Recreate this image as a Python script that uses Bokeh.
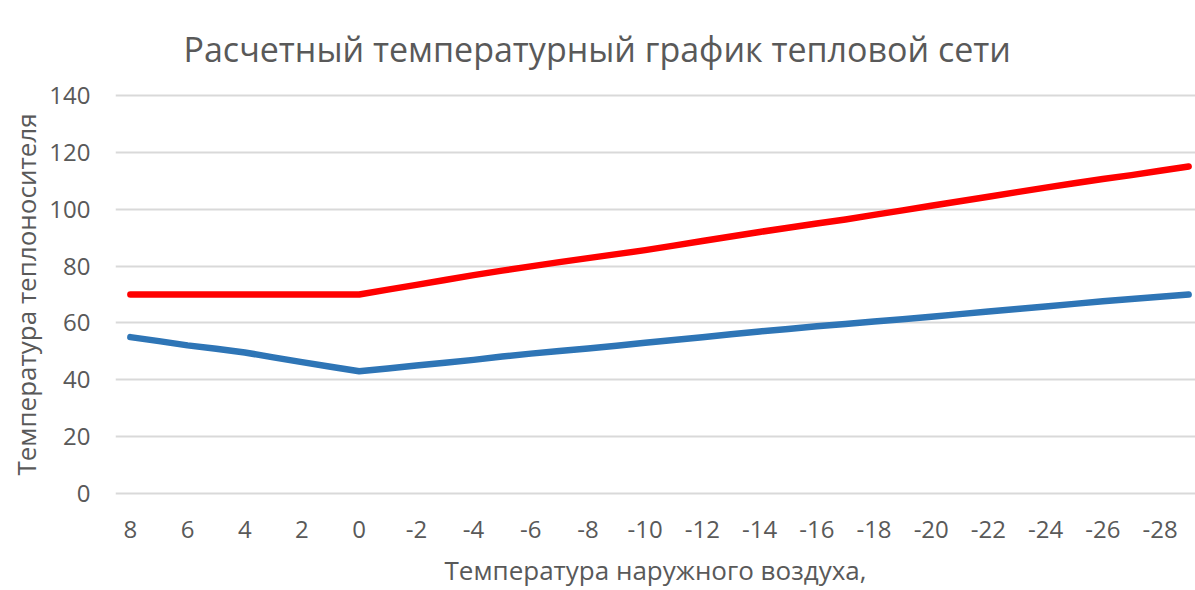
from bokeh.plotting import figure
from bokeh.models import Range1d, FixedTicker
from bokeh.embed import file_html
from bokeh.resources import INLINE

# Outdoor air temperature (categories, 8 .. -29)
outdoor_t = list(range(8, -30, -1))

# Supply (red) line
supply = [70, 70, 70, 70, 70, 70, 70, 70, 70,
          71.7, 73.4, 75.1, 76.8, 78.4, 79.9, 81.4, 82.8, 84.2, 85.6,
          87.2, 88.8, 90.4, 92.0, 93.5, 95.0, 96.4, 98.0, 99.6, 101.2,
          102.8, 104.4, 106.0, 107.6, 109.1, 110.6, 112.0, 113.5, 115.0]

# Return (blue) line
return_t = [55.0, 53.6, 52.1, 50.9, 49.6, 47.9, 46.2, 44.6, 43.0,
            44.0, 45.0, 46.0, 47.0, 48.2, 49.2, 50.1, 51.0, 52.0, 53.0,
            54.0, 55.0, 56.0, 57.0, 57.9, 58.8, 59.6, 60.5, 61.3, 62.2,
            63.1, 64.0, 64.9, 65.8, 66.7, 67.6, 68.4, 69.2, 70.0]

x_ticks = list(range(8, -29, -2))
y_ticks = [0, 20, 40, 60, 80, 100, 120, 140]

title_text = "Расчетный температурный график тепловой сети"
x_label = "Температура наружного воздуха,"
y_label = "Температура теплоносителя"

FONT = "Open Sans"
GREY = "#595959"

p = figure(width=1195, height=590, output_backend="svg", toolbar_location=None,
           x_range=Range1d(8.52, -29.24), y_range=Range1d(-0.7, 140.7),
           min_border_left=115, min_border_right=0,
           min_border_top=93, min_border_bottom=94)

p.title.text = title_text
p.title.align = "left"
p.title.offset = 68
p.title.standoff = 44
p.title.text_font = FONT
p.title.text_font_size = "34px"
p.title.text_font_style = "normal"
p.title.text_color = GREY

p.outline_line_color = None
p.background_fill_color = "white"
p.border_fill_color = "white"

p.line(outdoor_t, supply, line_color="#ff0000", line_width=6.5, line_cap="round", line_join="round")
p.line(outdoor_t, return_t, line_color="#2e75b6", line_width=6.5, line_cap="round", line_join="round")

p.xgrid.visible = False
p.ygrid.grid_line_color = "#d9d9d9"
p.ygrid.grid_line_width = 2
p.ygrid.ticker = FixedTicker(ticks=y_ticks)

for ax in (p.xaxis, p.yaxis):
    ax.axis_line_color = None
    ax.major_tick_line_color = None
    ax.minor_tick_line_color = None
    ax.major_tick_out = 0
    ax.major_tick_in = 0
    ax.minor_tick_out = 0
    ax.minor_tick_in = 0
    ax.major_label_text_font = FONT
    ax.major_label_text_font_size = "24px"
    ax.major_label_text_color = GREY
    ax.axis_label_text_font = FONT
    ax.axis_label_text_font_size = "26px"
    ax.axis_label_text_font_style = "normal"
    ax.axis_label_text_color = GREY
    ax.axis_label_text_line_height = 1.0
    ax.major_label_text_line_height = 1.0

p.xaxis.ticker = FixedTicker(ticks=x_ticks)
p.xaxis.major_label_overrides = {t: str(t) for t in x_ticks}
p.xaxis.major_label_standoff = 25
p.xaxis.axis_label = x_label
p.xaxis.axis_label_standoff = 11

p.yaxis.ticker = FixedTicker(ticks=y_ticks)
p.yaxis.major_label_overrides = {t: str(t) for t in y_ticks}
p.yaxis.major_label_standoff = 25
p.yaxis.axis_label = y_label
p.yaxis.axis_label_standoff = 2

open("out.html", "w").write(file_html(p, INLINE))
